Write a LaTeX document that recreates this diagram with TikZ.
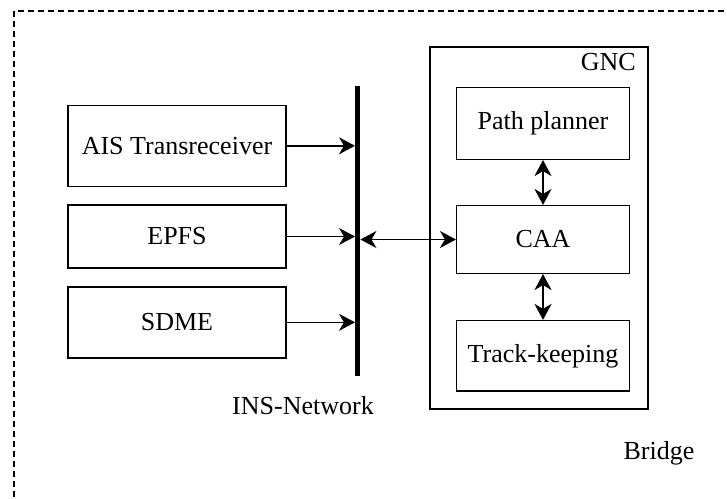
\documentclass[tikz,border=0pt]{standalone}
\usepackage{fontspec}
\setmainfont{Liberation Serif}
\usetikzlibrary{arrows.meta,positioning}

\tikzset{
  block/.style={draw, line width=1.5pt, minimum width=218pt, inner sep=0pt},
  gncblock/.style={draw, line width=1.5pt, minimum width=172.6pt, inner sep=0pt},
  link/.style={line width=1.5pt, -{Stealth[length=16pt,width=17pt,inset=5pt]}},
  duplex/.style={line width=1.5pt, {Stealth[length=16pt,width=17pt,inset=5pt]}-{Stealth[length=16pt,width=17pt,inset=5pt]}}
}

\begin{document}
\begin{tikzpicture}[x=1pt, y=-1pt, font=\fontsize{26}{31}\selectfont]

  \useasboundingbox (0,0) rectangle (727,498);
  \clip (0,0) rectangle (727,498);

  % bridge border
  \draw[line width=1.3pt, dash pattern=on 6pt off 4pt] (14,11) rectangle (760,530);
  \node[] (bridge) at (659,453) {Bridge};

  % sensors
  \node[block, minimum height=81pt] (ais) at (177,145.8) {AIS Transreceiver};
  \node[block, minimum height=63pt] (epfs) at (177,236.5) {EPFS};
  \node[block, minimum height=71pt] (sdme) at (177,322.3) {SDME};

  % network bus
  \node[fill=black, minimum width=5pt, minimum height=290pt, inner sep=0pt] (ins) at (357.7,231) {};
  \node[] (inslabel) at (303,406) {INS-Network};

  % GNC
  \node[draw, line width=1.5pt, minimum width=218pt, minimum height=362pt, inner sep=0pt] (gnc) at (539,228) {};
  \node[anchor=east, inner sep=0pt] (gnclabel) at (636,62.5) {GNC};

  \node[gncblock, minimum height=72pt] (path) at (543,123.3) {Path planner};
  \node[gncblock, minimum height=67.6pt] (caa) at (543,239.5) {CAA};
  \node[gncblock, minimum height=70.3pt] (track) at (543,355.8) {Track-keeping};

  \draw[link] (ais.east) -- (ais.east -| ins.west);
  \draw[link] (epfs.east) -- (epfs.east -| ins.west);
  \draw[link] (sdme.east) -- (sdme.east -| ins.west);
  \draw[duplex] (caa.west -| ins.east) -- (caa.west);

  \draw[duplex] (path.south) -- (caa.north);
  \draw[duplex, line width=2.2pt] (caa.south) -- (track.north);

\end{tikzpicture}
\end{document}
